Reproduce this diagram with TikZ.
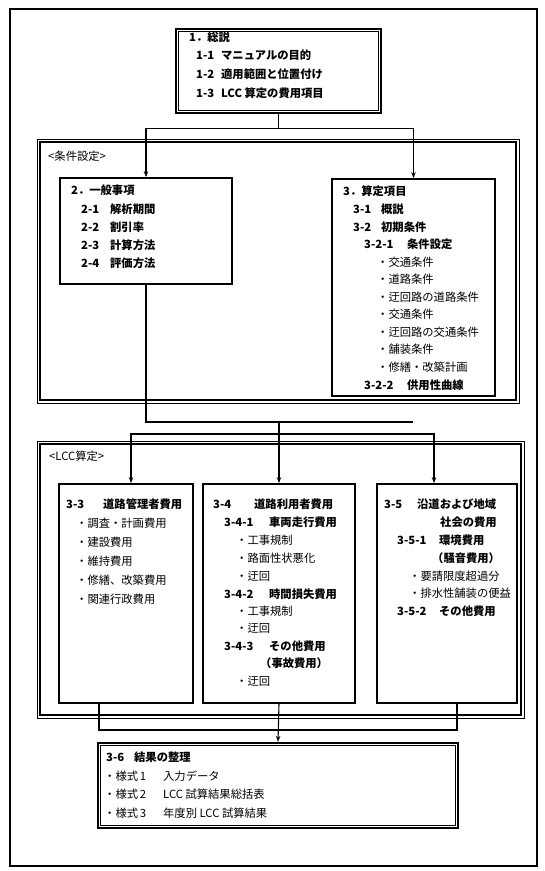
\documentclass[tikz,border=0pt]{standalone}
\usepackage{fontspec}
\setmainfont{Noto Sans CJK JP}
\usetikzlibrary{arrows.meta,fit,calc}
\newcommand{\numb}[2]{\makebox[#1][l]{#2}}
\begin{document}
\begin{tikzpicture}[x=1pt,y=-1pt,
  txt/.style={anchor=base west, inner sep=0, font=\fontsize{11.3}{13}\selectfont},
  hd/.style={anchor=base west, inner sep=0, font=\fontsize{11.3}{13}\selectfont\bfseries},
  single/.style={draw, line width=1.8pt, inner sep=0},
  dbl/.style={draw, line width=2.4pt, inner sep=0},
  frm/.style={draw, line width=1pt, inner sep=0},
  conn/.style={line width=1.1pt},
  arr/.style={conn, -{Stealth[length=6pt,width=4.5pt]}},
]
\useasboundingbox (0,0) rectangle (545,871);
% outer page frame
\node[draw, line width=1.3pt, inner sep=0, fit={(10,9) (537,866)}] (page) {};
% group frames
\node[frm, fit={(37,139) (519,403)}] (fcond) {};
\draw[line width=2pt] ($(fcond.north west)+(3.5,3.5)$) rectangle ($(fcond.south east)+(-3.5,-3.5)$);
\node[frm, fit={(37,441) (524,718)}] (flcc) {};
\draw[line width=2pt] ($(flcc.north west)+(3.5,3.5)$) rectangle ($(flcc.south east)+(-3.5,-3.5)$);
% boxes
\node[dbl, fit={(176,29) (381,113)}] (b1) {};
\draw[line width=0.8pt] ($(b1.north west)+(3.5,3.5)$) rectangle ($(b1.south east)+(-3.5,-3.5)$);
\node[single, fit={(60,178) (232,284)}] (b2) {};
\node[single, fit={(332,179) (495,396)}] (b3) {};
\node[single, fit={(59,484) (193,703)}] (b33) {};
\node[single, fit={(203,484) (355,703)}] (b34) {};
\node[single, fit={(377,484) (517,703)}] (b35) {};
\node[dbl, fit={(98,743) (458,828)}] (b36) {};
\draw[line width=0.8pt] ($(b36.north west)+(3.5,3.5)$) rectangle ($(b36.south east)+(-3.5,-3.5)$);
% labels
\node[txt] (lcond) at (48,160) {<条件設定>};
\node[txt] (llcc) at (49,460) {<LCC算定>};
% box 1
\node[hd] (t1a) at (189,41) {1．総説};
\node[hd] (t1b) at (196,59) {\numb{25pt}{1-1}マニュアルの目的};
\node[hd] (t1c) at (196,78) {\numb{25pt}{1-2}適用範囲と位置付け};
\node[hd] (t1d) at (196,97) {\numb{25pt}{1-3}LCC 算定の費用項目};
% box 2
\node[hd] (t2a) at (71,194) {2．一般事項};
\node[hd] (t2b) at (81,213) {\numb{29pt}{2-1}解析期間};
\node[hd] (t2c) at (81,231) {\numb{29pt}{2-2}割引率};
\node[hd] (t2d) at (81,249) {\numb{29pt}{2-3}計算方法};
\node[hd] (t2e) at (81,267) {\numb{29pt}{2-4}評価方法};
% box 3
\node[hd] (t3a) at (343,195) {3．算定項目};
\node[hd] (t3b) at (353,213) {\numb{28pt}{3-1}概説};
\node[hd] (t3c) at (353,231) {\numb{28pt}{3-2}初期条件};
\node[hd] (t3d) at (364,248) {\numb{43pt}{3-2-1}条件設定};
\node[txt] (t3e) at (377,266) {・交通条件};
\node[txt] (t3f) at (377,283) {・道路条件};
\node[txt] (t3g) at (377,301) {・迂回路の道路条件};
\node[txt] (t3h) at (377,318) {・交通条件};
\node[txt] (t3i) at (377,336) {・迂回路の交通条件};
\node[txt] (t3j) at (377,353) {・舗装条件};
\node[txt] (t3k) at (377,371) {・修繕・改築計画};
\node[hd] (t3l) at (364,389) {\numb{43pt}{3-2-2}供用性曲線};
% box 3-3
\node[hd] (t33a) at (66,508) {\numb{37pt}{3-3}道路管理者費用};
\node[txt] (t33b) at (76,527) {・調査・計画費用};
\node[txt] (t33c) at (76,546) {・建設費用};
\node[txt] (t33d) at (76,565) {・維持費用};
\node[txt] (t33e) at (76,584) {・修繕、改築費用};
\node[txt] (t33f) at (76,603) {・関連行政費用};
% box 3-4
\node[hd] (t34a) at (213,508) {\numb{41pt}{3-4}道路利用者費用};
\node[hd] (t34b) at (224,526) {\numb{45pt}{3-4-1}車両走行費用};
\node[txt] (t34c) at (236,544) {・工事規制};
\node[txt] (t34d) at (236,562) {・路面性状悪化};
\node[txt] (t34e) at (236,580) {・迂回};
\node[hd] (t34f) at (224,598) {\numb{45pt}{3-4-2}時間損失費用};
\node[txt] (t34g) at (236,615) {・工事規制};
\node[txt] (t34h) at (236,632) {・迂回};
\node[hd] (t34i) at (224,650) {\numb{45pt}{3-4-3}その他費用};
\node[hd] (t34j) at (260,667) {（事故費用）};
\node[txt] (t34k) at (236,685) {・迂回};
% box 3-5
\node[hd] (t35a) at (384,508) {\numb{33pt}{3-5}沿道および地域};
\node[hd] (t35b) at (440,526) {社会の費用};
\node[hd] (t35c) at (397,544) {\numb{42pt}{3-5-1}環境費用};
\node[hd] (t35d) at (432,562) {（騒音費用）};
\node[txt] (t35e) at (409,580) {・要請限度超過分};
\node[txt] (t35f) at (409,597) {・排水性舗装の便益};
\node[hd] (t35g) at (397,615) {\numb{42pt}{3-5-2}その他費用};
% box 3-6
\node[hd] (t36a) at (106,761) {\numb{28pt}{3-6}結果の整理};
\node[txt] (t36b) at (104,780) {\numb{59pt}{・様式\,1}入力データ};
\node[txt] (t36c) at (104,798) {\numb{59pt}{・様式\,2}LCC 試算結果総括表};
\node[txt] (t36d) at (104,817) {\numb{59pt}{・様式\,3}年度別 LCC 試算結果};
% connectors
\draw[arr] (b1.south) -- ++(0,14) -| (b2.north);
\draw[arr] (b1.south) -- ++(0,14) -| (b3.north);
\coordinate (jC) at (413,422);
\draw[conn] (b2.south) |- (jC);
\draw[arr] (b34.north |- jC) -- (b34.north);
\coordinate (jE) at (131,434);
\coordinate (jF) at (434,434);
\draw[arr] (jF) -- (jE) -- (jE |- b33.north);
\draw[arr] (jE) -- (jF) -- (jF |- b35.north);
\coordinate (jG) at (99,730);
\coordinate (jH) at (457,730);
\draw[conn] (jG |- b33.south) -- (jG) -- (jH) -- (jH |- b35.south);
\draw[arr] (b34.south) -- (b36.north);
\end{tikzpicture}
\end{document}
